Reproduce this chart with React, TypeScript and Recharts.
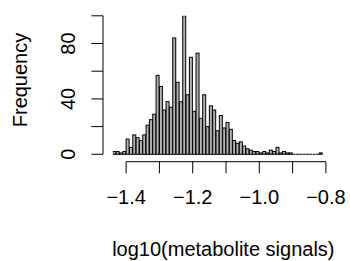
import React from 'react'
import { BarChart, Bar, XAxis, YAxis } from 'recharts'

// histogram of log10(metabolite signals), bins of 0.01 starting at -1.44
const BIN_START = -1.44
const BIN_WIDTH = 0.01
const COUNTS = [
  2, 2, 1, 2, 11, 5, 14, 12, 10, 14, 21, 25, 29, 57, 49, 32, 38, 34, 84, 52,
  38, 100, 43, 70, 31, 73, 26, 43, 20, 35, 32, 17, 28, 19, 23, 18, 10, 8, 9, 6,
  4, 3, 2, 2, 1, 2, 1, 3, 2, 5, 1, 2, 1, 1, 0, 0, 0, 0, 0, 0, 0, 0, 1,
]
const X_TICKS = [-1.4, -1.3, -1.2, -1.1, -1.0, -0.9, -0.8]
const X_LABELED = [-1.4, -1.2, -1.0, -0.8]
const Y_TICKS = [0, 20, 40, 60, 80, 100]
const Y_LABELED = [0, 40, 80]

const X_DOMAIN: [number, number] = [-1.44, -0.8]
const Y_DOMAIN: [number, number] = [-5.34, 100]

const W = 350
const H = 261
const PLOT_LEFT = 112.8
const PLOT_RIGHT = 325.9
const PLOT_TOP = 15.8
const PLOT_BOTTOM = 161.7
const Y_AXIS_W = 100
const FONT = '"Liberation Sans", Arial, sans-serif'
const FS = 20

const pxPerX = (PLOT_RIGHT - PLOT_LEFT) / (X_DOMAIN[1] - X_DOMAIN[0])
const pxPerY = (PLOT_BOTTOM - PLOT_TOP) / (Y_DOMAIN[1] - Y_DOMAIN[0])

const data = COUNTS.map((count, i) => ({
  mid: BIN_START + BIN_WIDTH * (i + 0.5),
  count,
}))

const fmt = (v: number) => (v < 0 ? '\u2212' : '') + Math.abs(v).toFixed(1)
const near = (a: number, b: number) => Math.abs(a - b) < 1e-9

function HistBar(props: any) {
  const { x, y, width, height } = props
  if (!height) {
    return <line x1={x} x2={x + width} y1={y} y2={y} stroke="#000" strokeWidth={1} />
  }
  return (
    <rect x={x} y={y} width={width} height={height} fill="#b4b4b4" stroke="#000" strokeWidth={1} />
  )
}

function XTick(props: any) {
  const { x, payload } = props
  const v = payload.value
  const span = (X_TICKS[X_TICKS.length - 1] - X_TICKS[0]) * pxPerX
  return (
    <g>
      {near(v, X_TICKS[0]) && (
        <line x1={x} x2={x + span} y1={PLOT_BOTTOM} y2={PLOT_BOTTOM} stroke="#000" />
      )}
      <line x1={x} x2={x} y1={PLOT_BOTTOM} y2={PLOT_BOTTOM + 11.6} stroke="#000" />
      {X_LABELED.some((l) => near(l, v)) && (
        <text x={x} y={PLOT_BOTTOM + 42} textAnchor="middle" fontSize={FS} fontFamily={FONT} fill="#000">
          {fmt(v)}
        </text>
      )}
    </g>
  )
}

function YTick(props: any) {
  const { y, payload } = props
  const v = payload.value
  const axisX = 103
  const span = (Y_TICKS[Y_TICKS.length - 1] - Y_TICKS[0]) * pxPerY
  return (
    <g>
      {v === 0 && <line x1={axisX} x2={axisX} y1={y} y2={y - span} stroke="#000" />}
      <line x1={axisX - 11.6} x2={axisX} y1={y} y2={y} stroke="#000" />
      {Y_LABELED.includes(v) && (
        <text
          x={75}
          y={y}
          textAnchor="middle"
          fontSize={FS}
          fontFamily={FONT}
          fill="#000"
          transform={`rotate(-90 75 ${y})`}
        >
          {v}
        </text>
      )}
    </g>
  )
}

export default function App() {
  const barPx = BIN_WIDTH * pxPerX
  return (
    <div style={{ position: 'absolute', left: 0, top: 0, width: W, height: H, background: '#fff' }}>
      <BarChart
        width={W}
        height={H}
        data={data}
        barCategoryGap={0}
        margin={{ top: PLOT_TOP, right: W - PLOT_RIGHT, bottom: 0, left: PLOT_LEFT - Y_AXIS_W }}
      >
        <XAxis
          dataKey="mid"
          type="number"
          domain={X_DOMAIN}
          allowDataOverflow
          ticks={X_TICKS}
          interval={0}
          height={H - PLOT_BOTTOM}
          axisLine={false}
          tickLine={false}
          tickSize={0}
          tick={<XTick />}
        />
        <YAxis
          type="number"
          domain={Y_DOMAIN}
          allowDataOverflow
          ticks={Y_TICKS}
          interval={0}
          width={Y_AXIS_W}
          axisLine={false}
          tickLine={false}
          tickSize={0}
          tick={<YTick />}
        />
        <Bar dataKey="count" barSize={barPx} shape={<HistBar />} isAnimationActive={false} />
        <text
          x={(PLOT_LEFT + PLOT_RIGHT) / 2 + 4}
          y={256}
          textAnchor="middle"
          fontSize={FS}
          fontFamily={FONT}
          fill="#000"
        >
          log10(metabolite signals)
        </text>
        <text
          x={27}
          y={80}
          textAnchor="middle"
          fontSize={FS}
          fontFamily={FONT}
          fill="#000"
          transform="rotate(-90 27 80)"
        >
          Frequency
        </text>
      </BarChart>
    </div>
  )
}
